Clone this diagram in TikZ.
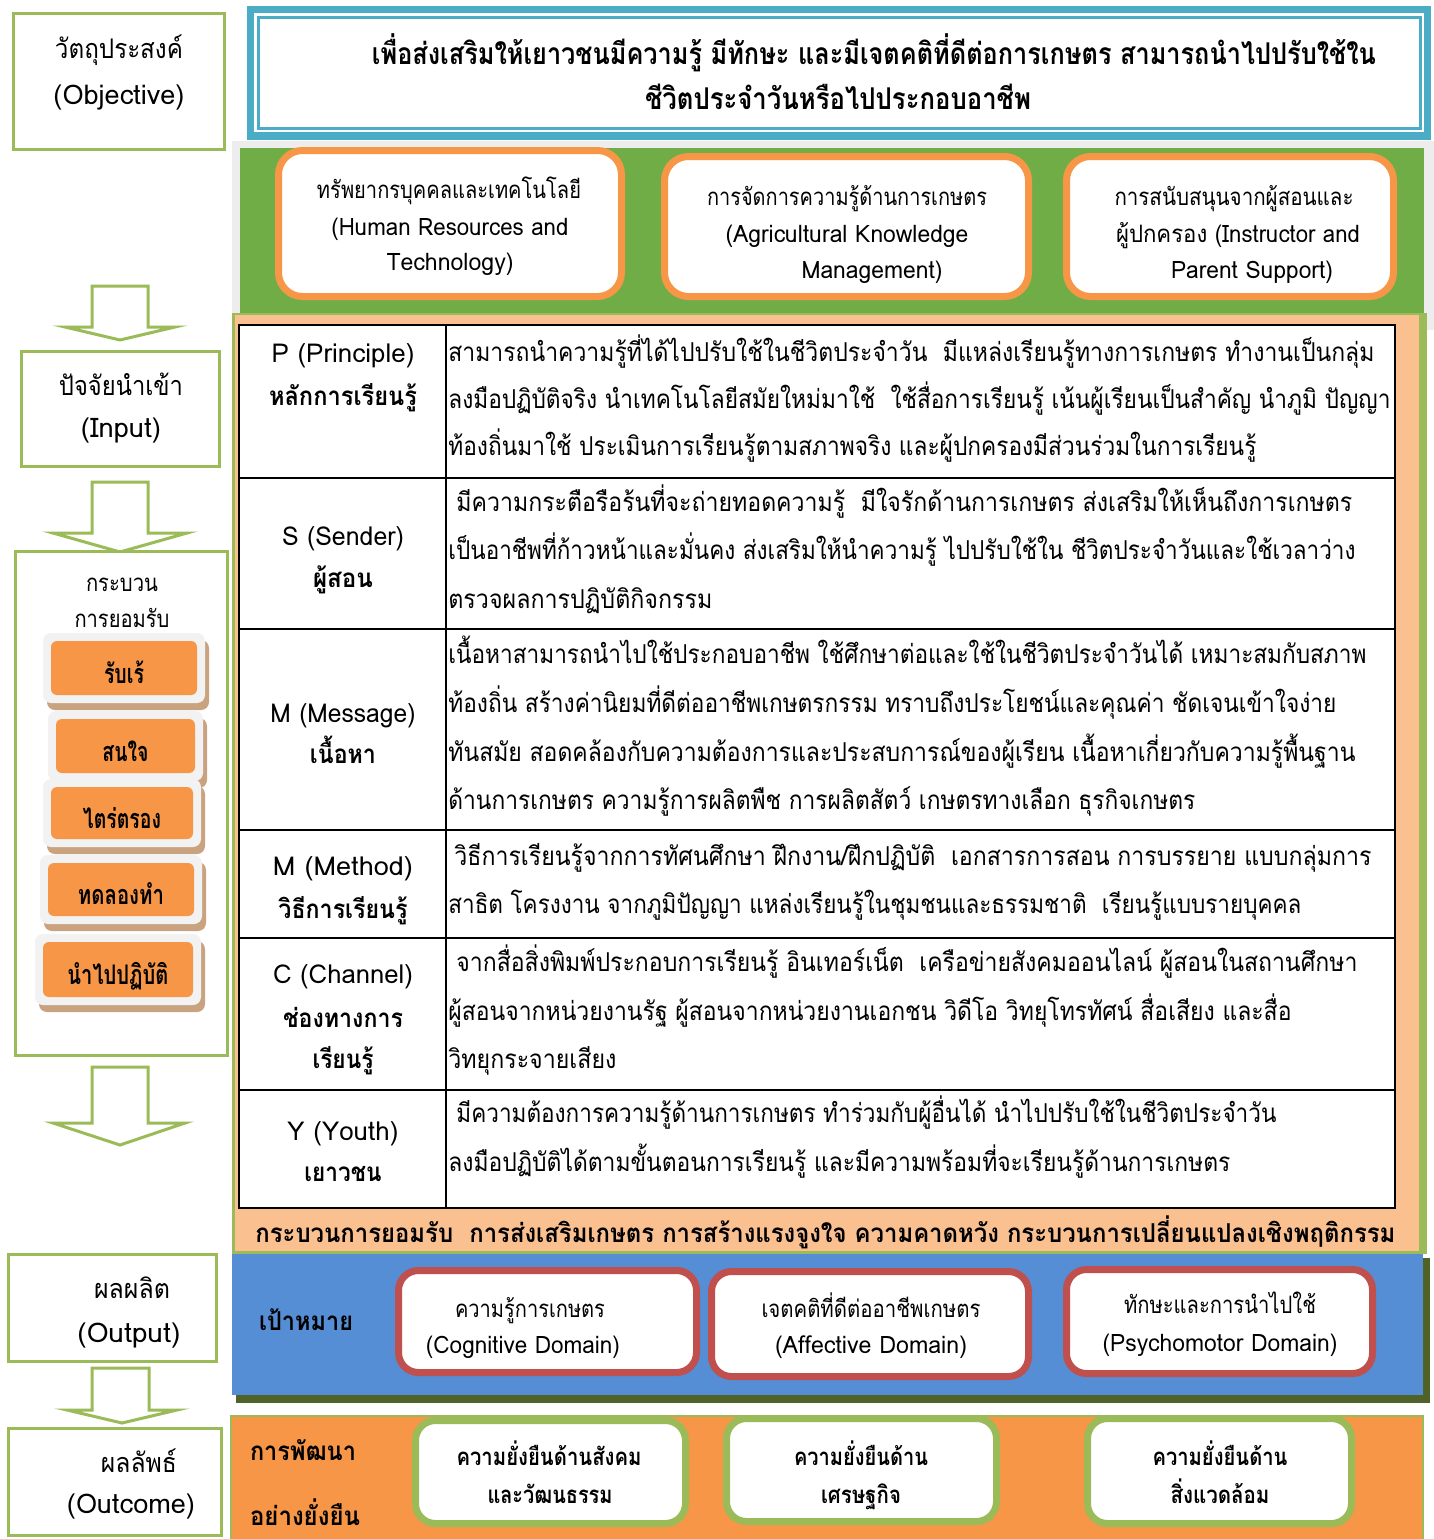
\documentclass[tikz,border=0pt]{standalone}
\usepackage{fontspec}
\usepackage{graphicx}
\setmainfont[Script=Thai]{Loma}
\definecolor{grnb}{HTML}{9BBB59}
\definecolor{grnf}{HTML}{70AD47}
\definecolor{orng}{HTML}{F79646}
\definecolor{peach}{HTML}{FAC090}
\definecolor{teal}{HTML}{4BACC6}
\definecolor{blu}{HTML}{558ED5}
\definecolor{redb}{HTML}{C0504D}
\definecolor{olive}{HTML}{4F6228}
\definecolor{btngray}{HTML}{F2F2F2}
\definecolor{btnshad}{HTML}{C9A27F}
\definecolor{lgray}{HTML}{EDEDED}
\newcommand\fw[2]{\pgfmathsetlengthmacro\fwl{(#1)*0.5}\resizebox{\fwl}{\height}{#2}}
\newcommand\lb[6][]{\node[lbl,#1] (#2) at (#3,#4) {\fw{#5}{#6}};}
\newcommand\tl[5]{\node[tlin] (#1) at (#2,#3) {\fw{#4-#2}{#5}};}
\newcommand\btn[6]{%
  \fill[btnshad,rounded corners=4pt] (#2-8+4,#3-8+7) rectangle (#4+8+4,#5+8+7);
  \fill[btngray,rounded corners=4pt] (#2-8,#3-8) rectangle (#4+8,#5+8);
  \fill[orng,rounded corners=3pt] (#2,#3) rectangle (#4,#5);
  \node[lbl,font=\fBtn] (#1) at ({(#2+#4)/2},{(#3+#5)/2+15}) {#6};}
\newcommand\fL{\fontsize{13.5}{16}\selectfont}
\newcommand\fS{\fontsize{12}{14}\selectfont}
\newcommand\fT{\fontsize{13}{15}\selectfont}
\newcommand\fBan{\fontsize{15}{17}\selectfont\bfseries}
\newcommand\fG{\fontsize{12}{14}\selectfont}
\newcommand\fH{\fontsize{13}{15}\selectfont}
\newcommand\fHb{\fontsize{13}{15}\selectfont\bfseries}
\newcommand\fBtn{\fontsize{13.5}{15}\selectfont\bfseries}
\tikzset{
  lbl/.style={inner sep=0pt, anchor=base, text=black},
  tlin/.style={inner sep=0pt, anchor=base west, text=black, font=\fT},
  lbox/.style={draw=grnb, line width=1.7pt, fill=white},
  barrow/.style={draw=grnb, line width=1.5pt, fill=white, line join=miter},
  obox/.style={draw=orng, line width=3.5pt, fill=white, rounded corners=12pt},
  rbox/.style={draw=redb, line width=3.5pt, fill=white, rounded corners=10pt},
  gbox/.style={draw=grnb, line width=3.5pt, fill=white, rounded corners=10pt},
  tab/.style={draw=black, line width=1.25pt},
}
\begin{document}
\begin{tikzpicture}[x=0.5pt,y=-0.5pt]
\useasboundingbox (0,0) rectangle (1434,1539);
\fill[white] (0,0) rectangle (1434,1539);

% ---------- left column ----------
\draw[lbox] (13.7,13.7) rectangle (224.3,149.3);
\lb[font=\fL]{obj1}{119}{58}{128}{วัตถุประสงค์}
\lb[font=\fL]{obj2}{119}{104}{131}{(Objective)}

\draw[barrow] (92,286) -- (148,286) -- (148,327) -- (175,327) -- (120,340) -- (65,327) -- (92,327) -- cycle;

\draw[lbox] (21.7,351.7) rectangle (219.3,466.3);
\lb[font=\fL]{in1}{121}{395}{124}{ปัจจัยนำเข้า}
\lb[font=\fL]{in2}{121}{437}{80}{(Input)}

\draw[barrow] (92,482) -- (148,482) -- (148,533) -- (187,533) -- (120,552) -- (53,533) -- (92,533) -- cycle;

\draw[lbox] (15.7,551.7) rectangle (227.3,1055.3);
\lb[font=\fS]{pr1}{122}{591}{72}{กระบวน}
\lb[font=\fS]{pr2}{122}{627}{95}{การยอมรับ}

\btn{b1}{51}{641}{197}{695}{\fw{40}{รับเร้}}
\btn{b2}{56}{719}{195}{773}{\fw{46}{สนใจ}}
\btn{b3}{51}{787}{193}{839}{\fw{78}{ไตร่ตรอง}}
\btn{b4}{48}{863}{194}{916}{\fw{86}{ทดลองทำ}}
\btn{b5}{43}{942}{193}{997}{\fw{101}{นำไปปฏิบัติ}}

\draw[barrow] (92,1067) -- (148,1067) -- (148,1123) -- (185,1123) -- (120,1145) -- (53,1123) -- (92,1123) -- cycle;

\draw[lbox] (8.7,1254.7) rectangle (216.3,1361.3);
\lb[font=\fL]{out1}{132}{1298}{76}{ผลผลิต}
\lb[font=\fL]{out2}{129}{1342}{103}{(Output)}

\draw[barrow] (92,1368) -- (149,1368) -- (149,1410) -- (177,1410) -- (122,1423) -- (67,1410) -- (92,1410) -- cycle;

\draw[lbox] (8.7,1428.7) rectangle (221.3,1535.3);
\lb[font=\fL]{oc1}{139}{1472}{76}{ผลลัพธ์}
\lb[font=\fL]{oc2}{131}{1513}{128}{(Outcome)}

% ---------- top banner ----------
\fill[teal] (247,6) rectangle (1431,140);
\fill[white] (254,13) rectangle (1424,132);
\draw[teal, line width=1.5pt] (258,17) rectangle (1420,128);
\lb[font=\fBan]{ban1}{874}{64}{1004}{เพื่อส่งเสริมให้เยาวชนมีความรู้ มีทักษะ และมีเจตคติที่ดีต่อการเกษตร สามารถนำไปปรับใช้ใน}
\lb[font=\fBan]{ban2}{838}{109}{386}{ชีวิตประจำวันหรือไปประกอบอาชีพ}

% ---------- green band ----------
\fill[lgray] (232,141) rectangle (1434,330);
\fill[grnf] (240,148) rectangle (1424,314);
\draw[obox] (278.5,150.5) rectangle (621.5,296.5);
\draw[obox] (664.5,156.5) rectangle (1028.5,296.5);
\draw[obox] (1066.5,156.5) rectangle (1393.5,296.5);
\lb[font=\fG]{hr1}{449}{198}{264}{ทรัพยากรบุคคลและเทคโนโลยี}
\lb[font=\fG]{hr2}{450}{235}{237}{(Human Resources and}
\lb[font=\fG]{hr3}{450}{270}{127}{Technology)}
\lb[font=\fG]{ak1}{847}{205}{280}{การจัดการความรู้ด้านการเกษตร}
\lb[font=\fG]{ak2}{847}{242}{243}{(Agricultural Knowledge}
\lb[font=\fG]{ak3}{872}{278}{141}{Management)}
\lb[font=\fG]{ip1}{1234}{205}{239}{การสนับสนุนจากผู้สอนและ}
\lb[font=\fG]{ip2}{1238}{242}{244}{ผู้ปกครอง (Instructor and}
\lb[font=\fG]{ip3}{1252}{278}{162}{Parent Support)}

% ---------- peach region and table ----------
\fill[grnb] (232,313) rectangle (1427,1254);
\fill[peach] (235,315) rectangle (1419,1251);
\fill[white] (239,325) rectangle (1395,1208);
\draw[tab] (239,325) rectangle (1395,1208);
\draw[tab] (446,325) -- (446,1208);
\foreach \yy in {478,629,830,938,1090} \draw[tab] (239,\yy) -- (1395,\yy);

\lb[font=\fH]{ph1}{343}{362}{143}{P (Principle)}
\lb[font=\fHb]{ph2}{343}{405}{148}{หลักการเรียนรู้}
\lb[font=\fH]{sh1}{343}{545}{122}{S (Sender)}
\lb[font=\fHb]{sh2}{343}{587}{60}{ผู้สอน}
\lb[font=\fH]{mh1}{343}{722}{145}{M (Message)}
\lb[font=\fHb]{mh2}{343}{763}{66}{เนื้อหา}
\lb[font=\fH]{eh1}{343}{875}{140}{M (Method)}
\lb[font=\fHb]{eh2}{343}{918}{129}{วิธีการเรียนรู้}
\lb[font=\fH]{ch1}{343}{983}{140}{C (Channel)}
\lb[font=\fHb]{ch2}{343}{1027}{120}{ช่องทางการ}
\lb[font=\fHb]{ch3}{343}{1068}{61}{เรียนรู้}
\lb[font=\fH]{yh1}{343}{1140}{111}{Y (Youth)}
\lb[font=\fHb]{yh2}{343}{1181}{77}{เยาวชน}

\tl{p1}{448}{361}{1374}{สามารถนำความรู้ที่ได้ไปปรับใช้ในชีวิตประจำวัน\ \ มีแหล่งเรียนรู้ทางการเกษตร ทำงานเป็นกลุ่ม}
\tl{p2}{448}{408}{1390}{ลงมือปฏิบัติจริง นำเทคโนโลยีสมัยใหม่มาใช้\ \ ใช้สื่อการเรียนรู้ เน้นผู้เรียนเป็นสำคัญ นำภูมิ ปัญญา}
\tl{p3}{448}{455}{1256}{ท้องถิ่นมาใช้ ประเมินการเรียนรู้ตามสภาพจริง และผู้ปกครองมีส่วนร่วมในการเรียนรู้}
\tl{s1}{456}{511}{1352}{มีความกระตือรือร้นที่จะถ่ายทอดความรู้\ \ มีใจรักด้านการเกษตร ส่งเสริมให้เห็นถึงการเกษตร}
\tl{s2}{448}{559}{1355}{เป็นอาชีพที่ก้าวหน้าและมั่นคง ส่งเสริมให้นำความรู้ ไปปรับใช้ใน ชีวิตประจำวันและใช้เวลาว่าง}
\tl{s3}{448}{608}{712}{ตรวจผลการปฏิบัติกิจกรรม}
\tl{m1}{448}{663}{1366}{เนื้อหาสามารถนำไปใช้ประกอบอาชีพ ใช้ศึกษาต่อและใช้ในชีวิตประจำวันได้ เหมาะสมกับสภาพ}
\tl{m2}{448}{712}{1336}{ท้องถิ่น สร้างค่านิยมที่ดีต่ออาชีพเกษตรกรรม ทราบถึงประโยชน์และคุณค่า ชัดเจนเข้าใจง่าย}
\tl{m3}{448}{761}{1355}{ทันสมัย สอดคล้องกับความต้องการและประสบการณ์ของผู้เรียน เนื้อหาเกี่ยวกับความรู้พื้นฐาน}
\tl{m4}{448}{809}{1195}{ด้านการเกษตร ความรู้การผลิตพืช การผลิตสัตว์ เกษตรทางเลือก ธุรกิจเกษตร}
\tl{e1}{454}{865}{1371}{วิธีการเรียนรู้จากการทัศนศึกษา ฝึกงาน/ฝึกปฏิบัติ\ \ เอกสารการสอน การบรรยาย แบบกลุ่มการ}
\tl{e2}{448}{913}{1301}{สาธิต โครงงาน จากภูมิปัญญา แหล่งเรียนรู้ในชุมชนและธรรมชาติ\ \ เรียนรู้แบบรายบุคคล}
\tl{c1}{456}{971}{1357}{จากสื่อสิ่งพิมพ์ประกอบการเรียนรู้ อินเทอร์เน็ต\ \ เครือข่ายสังคมออนไลน์ ผู้สอนในสถานศึกษา}
\tl{c2}{448}{1020}{1291}{ผู้สอนจากหน่วยงานรัฐ ผู้สอนจากหน่วยงานเอกชน วิดีโอ วิทยุโทรทัศน์ สื่อเสียง และสื่อ}
\tl{c3}{448}{1068}{616}{วิทยุกระจายเสียง}
\tl{y1}{456}{1122}{1276}{มีความต้องการความรู้ด้านการเกษตร ทำร่วมกับผู้อื่นได้ นำไปปรับใช้ในชีวิตประจำวัน}
\tl{y2}{448}{1171}{1230}{ลงมือปฏิบัติได้ตามขั้นตอนการเรียนรู้ และมีความพร้อมที่จะเรียนรู้ด้านการเกษตร}

\node[lbl, anchor=base west, font=\fHb] (acc) at (255,1242) {\fw{1140}{กระบวนการยอมรับ\ \ การส่งเสริมเกษตร การสร้างแรงจูงใจ ความคาดหวัง กระบวนการเปลี่ยนแปลงเชิงพฤติกรรม}};

% ---------- blue band ----------
\fill[olive] (236,1258) rectangle (1430,1403);
\fill[blu] (232,1254) rectangle (1423,1395);
\draw[rbox] (398.5,1270.5) rectangle (696.5,1372.5);
\draw[rbox] (711.5,1271.5) rectangle (1028.5,1376.5);
\draw[rbox] (1066.5,1269.5) rectangle (1372.5,1373.5);
\lb[font=\fHb]{goal}{306}{1330}{94}{เป้าหมาย}
\lb[font=\fG]{r11}{530}{1317}{150}{ความรู้การเกษตร}
\lb[font=\fG]{r12}{523}{1353}{194}{(Cognitive Domain)}
\lb[font=\fG]{r21}{871}{1317}{219}{เจตคติที่ดีต่ออาชีพเกษตร}
\lb[font=\fG]{r22}{871}{1353}{192}{(Affective Domain)}
\lb[font=\fG]{r31}{1220}{1313}{192}{ทักษะและการนำไปใช้}
\lb[font=\fG]{r32}{1220}{1351}{235}{(Psychomotor Domain)}

% ---------- orange band ----------
\fill[orng] (230,1415) rectangle (1424,1539);
\draw[grnb, line width=1pt] (231,1539) -- (231,1416) -- (1423,1416) -- (1423,1539);
\draw[gbox] (415.5,1420.5) rectangle (685.5,1523.5);
\draw[gbox] (726.5,1418.5) rectangle (996.5,1521.5);
\draw[gbox] (1087.5,1418.5) rectangle (1351.5,1523.5);
\lb[font=\fHb]{dev1}{303}{1460}{106}{การพัฒนา}
\lb[font=\fHb]{dev2}{305}{1525}{110}{อย่างยั่งยืน}
\lb[font=\fG\bfseries]{g11}{549}{1465}{185}{ความยั่งยืนด้านสังคม}
\lb[font=\fG\bfseries]{g12}{550}{1503}{125}{และวัฒนธรรม}
\lb[font=\fG\bfseries]{g21}{861}{1465}{134}{ความยั่งยืนด้าน}
\lb[font=\fG\bfseries]{g22}{861}{1503}{80}{เศรษฐกิจ}
\lb[font=\fG\bfseries]{g31}{1220}{1465}{135}{ความยั่งยืนด้าน}
\lb[font=\fG\bfseries]{g32}{1220}{1503}{99}{สิ่งแวดล้อม}
\end{tikzpicture}
\end{document}
